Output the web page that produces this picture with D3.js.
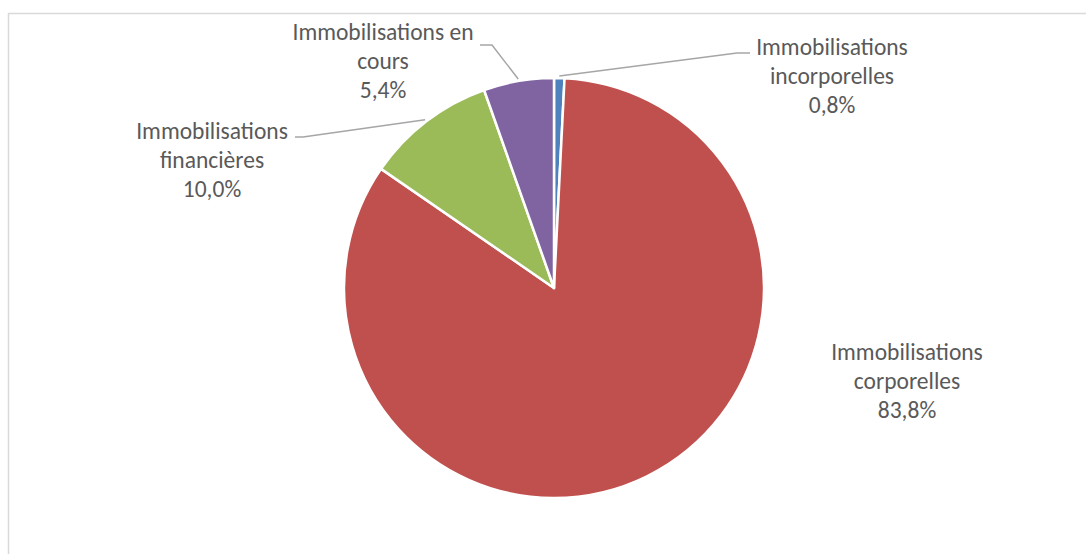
<!DOCTYPE html>
<html lang="fr">
<head>
  <meta charset="UTF-8" />
  <script src="https://d3js.org/d3.v7.min.js"></script>
  <style>
    body { margin: 0; background: #fff; }
    text { font-family: Calibri, Carlito, "Open Sans", sans-serif; fill: #595959; }
  </style>
</head>
<body>
  <div id="chart"></div>

  <script>
    // data, clockwise from 12 o'clock
    const categories = ["Immobilisations incorporelles", "Immobilisations corporelles",
                        "Immobilisations financières", "Immobilisations en cours"];
    const shares = [0.8, 83.8, 10.0, 5.4];
    const colors = ["#4F81BD", "#C0504D", "#9BBB59", "#8064A2"];
    // label text lines (wrapping as in the original)
    const labelLines = [
      ["Immobilisations", "incorporelles"],
      ["Immobilisations", "corporelles"],
      ["Immobilisations", "financières"],
      ["Immobilisations en", "cours"]
    ];

    const W = 1086, H = 554;
    const cx = 554, cy = 288, r = 210;

    const svg = d3.select("#chart").append("svg")
      .attr("width", W).attr("height", H);

    // chart frame (runs off the right / bottom edge)
    svg.append("rect")
      .attr("x", 8.5).attr("y", 13.5)
      .attr("width", W + 20).attr("height", H + 20)
      .attr("fill", "none").attr("stroke", "#d9d9d9").attr("stroke-width", 1.5);

    const data = categories.map((c, i) => ({ name: c, value: shares[i], color: colors[i], lines: labelLines[i] }));

    const pie = d3.pie().value(d => d.value).sort(null);
    const arc = d3.arc().innerRadius(0).outerRadius(r);
    const arcs = pie(data);

    const g = svg.append("g").attr("transform", `translate(${cx},${cy})`);

    g.selectAll("path.slice")
      .data(arcs).enter().append("path")
      .attr("class", "slice")
      .attr("d", arc)
      .attr("fill", d => d.data.color)
      .attr("stroke", "#fff").attr("stroke-width", 2.5)
      .attr("stroke-linejoin", "round");

    // label layout: middle line centre (relative to pie centre), elbow point
    const labelPos = [
      { x: 278, y: -212, elbow: [183, -235], end: [196, -235] },
      { x: 353, y: 93, elbow: null },
      { x: -342, y: -128, elbow: [-251, -151], end: [-259, -151] },
      { x: -171, y: -227, elbow: [-62, -243], end: [-74, -243] }
    ];

    const fmt = v => d3.format(".1f")(v).replace(".", ",") + "%";
    const lineH = 29;

    arcs.forEach((a, i) => {
      const p = labelPos[i];
      const mid = (a.startAngle + a.endAngle) / 2;
      if (p.elbow) {
        const rr = r + 2;
        const sx = Math.sin(mid) * rr, sy = -Math.cos(mid) * rr;
        g.append("polyline")
          .attr("points", [[sx, sy], p.elbow, p.end].map(q => q.join(",")).join(" "))
          .attr("fill", "none").attr("stroke", "#a6a6a6").attr("stroke-width", 1.5);
      }
      const lines = a.data.lines.concat([fmt(a.data.value)]);
      const t = g.append("text")
        .attr("text-anchor", "middle")
        .attr("font-size", 23.5)
        .attr("x", p.x).attr("y", p.y);
      lines.forEach((ln, k) => {
        t.append("tspan")
          .attr("x", p.x)
          .attr("y", p.y + (k - 1) * lineH)
          .attr("dy", "0.35em")
          .text(ln);
      });
    });
  </script>
</body>
</html>
